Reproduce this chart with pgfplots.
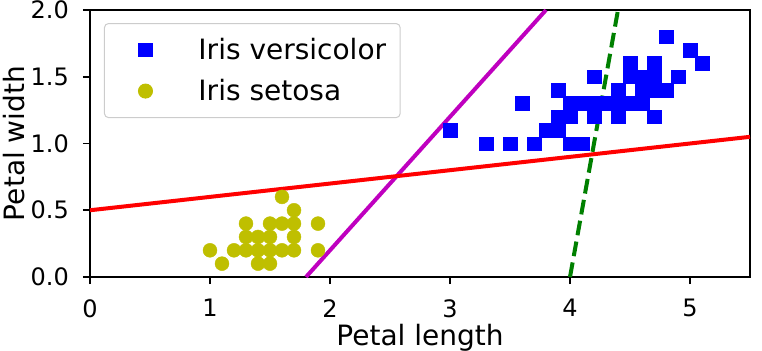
\documentclass[border=0pt]{standalone}
\usepackage{pgfplots}
\pgfplotsset{compat=1.18}
\usepackage{fontspec}
\setmainfont{DejaVu Sans}
\definecolor{mplyellow}{rgb}{0.75,0.75,0}
\definecolor{mplgreen}{rgb}{0,0.5,0}
\definecolor{mplmagenta}{rgb}{0.75,0,0.75}
\begin{document}
\begin{tikzpicture}
\begin{axis}[
  name=ax,
  scale only axis,
  width=660bp, height=267bp,
  xmin=0, xmax=5.5, ymin=0, ymax=2,
  xtick={0,1,2,3,4,5},
  ytick={0,0.5,1,1.5,2},
  yticklabel style={/pgf/number format/fixed,/pgf/number format/fixed zerofill,/pgf/number format/precision=1,
    anchor=east, inner sep=0bp, xshift=-14bp},
  xticklabel style={anchor=north, inner sep=0bp, yshift=-15bp},
  /pgf/number format/assume math mode=true,
  tick label style={font=\fontsize{24bp}{28bp}\selectfont},
  xlabel={Petal length},
  ylabel={Petal width},
  every axis x label/.style={at={(axis description cs:0.5,-0.2547)}, anchor=base, inner sep=0bp, font=\fontsize{28bp}{32bp}\selectfont},
  every axis y label/.style={at={(axis description cs:-0.0985,0.5)}, rotate=90, anchor=base, inner sep=0bp, font=\fontsize{28bp}{32bp}\selectfont},
  tick align=outside,
  tick pos=left,
  major tick length=7bp,
  axis line style={line width=1.6bp},
  every tick/.style={black,line width=1.6bp},
  legend style={at={(axis description cs:0.0212,0.951)},anchor=north west,draw={rgb,1:red,0.8;green,0.8;blue,0.8},line width=1bp,
    rounded corners=4bp, font=\fontsize{28bp}{32bp}\selectfont,
    inner xsep=14bp, inner ysep=6bp, row sep=0bp,
    nodes={inner sep=0bp, minimum height=41bp}},
  legend cell align=left,
  legend image code/.code={\path[draw=none,fill=none] (0bp,-1bp) rectangle (80bp,1bp); \path[#1,draw=none] plot[only marks] coordinates {(27bp,0bp)};},
  clip=true,
]
\addplot[mplgreen, line width=4bp, dash pattern=on 14.8bp off 6.4bp, forget plot] coordinates {(4,0) (4.4,2)};
\addplot[mplmagenta, line width=4bp, forget plot] coordinates {(1.8,0) (3.8,2)};
\addplot[red, line width=4bp, forget plot] coordinates {(0,0.5) (5.5,1.05)};
\addplot[only marks, mark=square*, blue, mark size=6.8bp, mark options={draw=blue,fill=blue}] table {
4.7 1.4
4.5 1.5
4.9 1.5
4.0 1.3
4.6 1.5
4.5 1.3
4.7 1.6
3.3 1.0
4.6 1.3
3.9 1.4
3.5 1.0
4.2 1.5
4.0 1.0
4.7 1.4
3.6 1.3
4.4 1.4
4.5 1.5
4.1 1.0
4.5 1.5
3.9 1.1
4.8 1.8
4.0 1.3
4.9 1.5
4.7 1.2
4.3 1.3
4.4 1.4
4.8 1.4
5.0 1.7
4.5 1.5
3.5 1.0
3.8 1.1
3.7 1.0
3.9 1.2
5.1 1.6
4.5 1.5
4.5 1.6
4.7 1.5
4.4 1.3
4.1 1.3
4.0 1.3
4.4 1.2
4.6 1.4
4.0 1.2
3.3 1.0
4.2 1.3
4.2 1.2
4.2 1.3
4.3 1.3
3.0 1.1
4.1 1.3
};
\addlegendentry{Iris versicolor}
\addplot[only marks, mark=*, mplyellow, mark size=7bp, mark options={draw=mplyellow,fill=mplyellow}] table {
1.4 0.2
1.3 0.2
1.5 0.2
1.7 0.4
1.4 0.3
1.5 0.1
1.6 0.2
1.4 0.1
1.1 0.1
1.2 0.2
1.5 0.4
1.3 0.4
1.7 0.3
1.5 0.3
1.7 0.2
1.0 0.2
1.7 0.5
1.9 0.2
1.6 0.4
1.3 0.3
1.6 0.6
1.9 0.4
};
\addlegendentry{Iris setosa}
\end{axis}
\pgfresetboundingbox
\path ([xshift=-90bp,yshift=-74bp]ax.south west) rectangle ([xshift=12bp,yshift=10bp]ax.north east);
\end{tikzpicture}
\end{document}
